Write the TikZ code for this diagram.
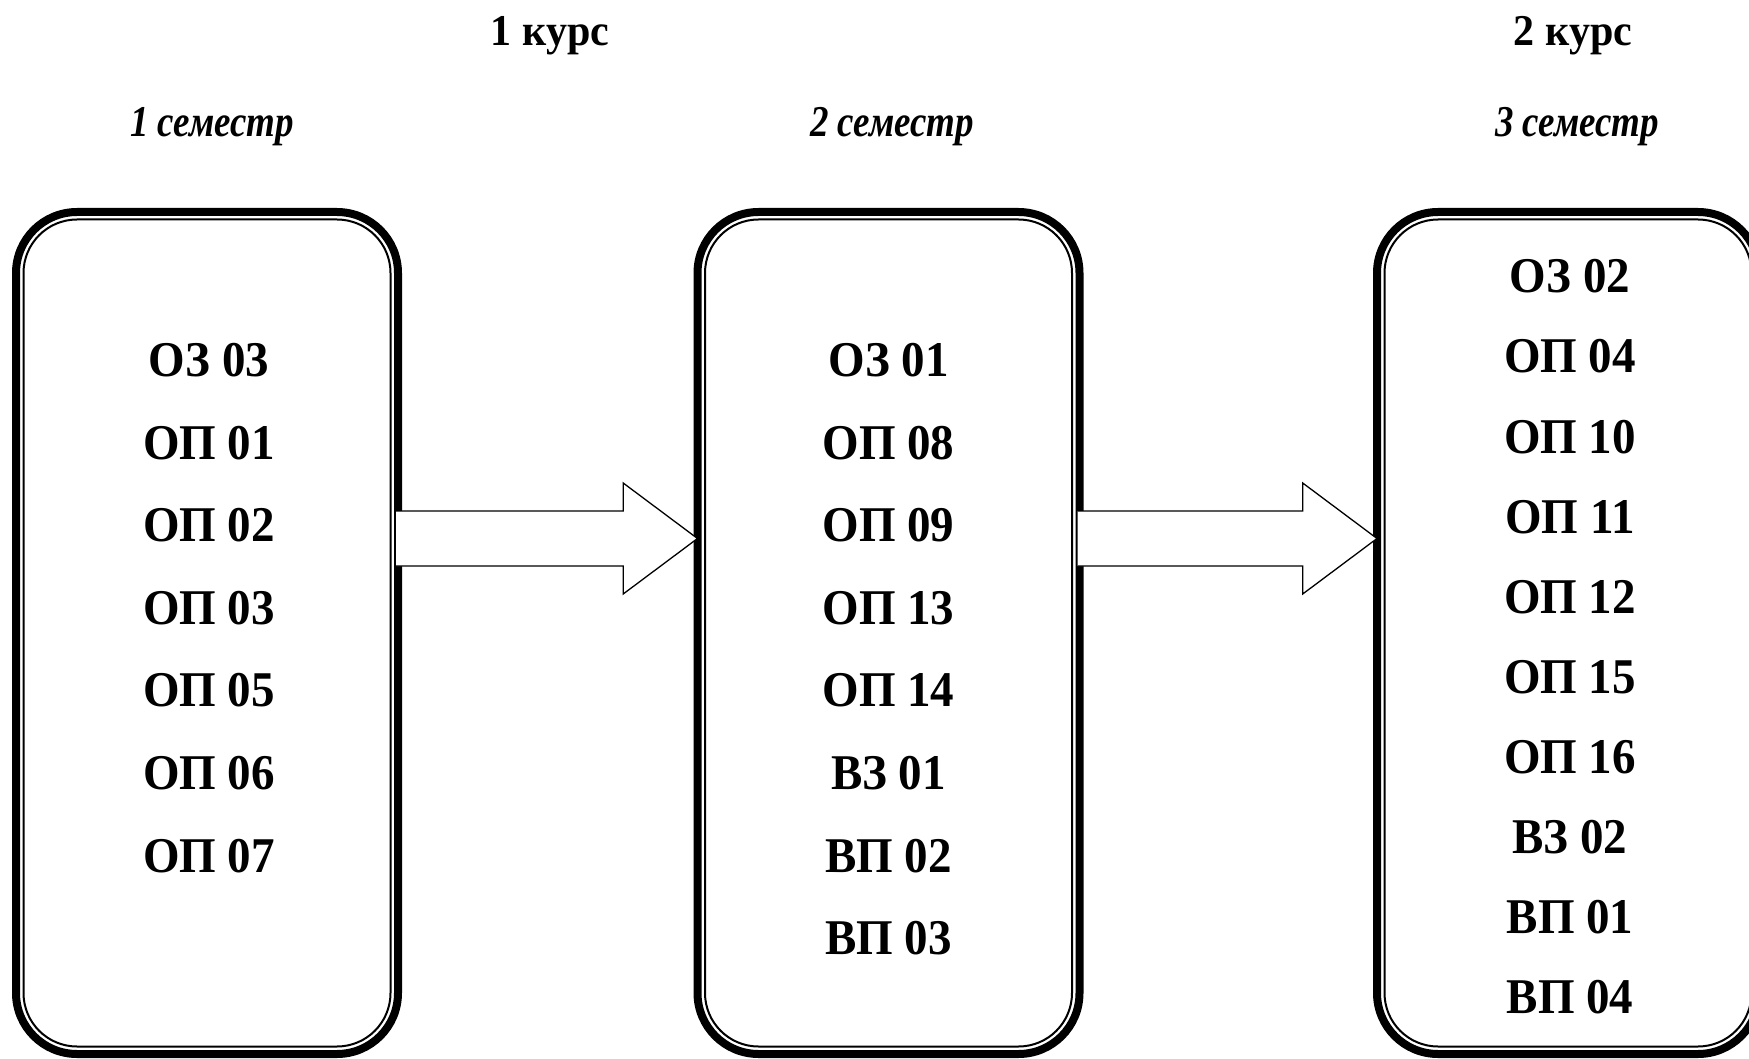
\documentclass[tikz,border=0pt]{standalone}
\usepackage{fontspec}
\setmainfont{Liberation Serif}
\newfontfamily\codefont[FakeStretch=0.94]{Liberation Serif}
\newfontfamily\kursfont[FakeStretch=0.955]{Liberation Serif}
\newfontfamily\semfont[FakeStretch=0.84]{Liberation Serif}
\usetikzlibrary{calc}
\tikzset{
 semebox/.style={draw, line width=8pt, rounded corners=61pt, minimum width=382pt, minimum height=842pt, outer sep=0pt, inner sep=0pt},
 innerline/.style={line width=2pt, rounded corners=53.5pt},
 code/.style={font=\codefont\fontsize{50}{54}\selectfont\bfseries, anchor=base, inner sep=0pt},
 kurs/.style={font=\kursfont\fontsize{44}{48}\selectfont\bfseries, anchor=base, inner sep=0pt},
 sem/.style={font=\semfont\fontsize{44}{48}\selectfont\bfseries\itshape, anchor=base, inner sep=0pt},
 barrow/.style={line width=1.3pt, line join=miter},
}
\begin{document}
\begin{tikzpicture}[x=1pt,y=-1pt]
\useasboundingbox (0,0) rectangle (1749,1059);
\clip (0,0) rectangle (1749,1059);
% boxes
\node[semebox] (b1) at (207,633) {};
\node[semebox] (b2) at (888.5,633) {};
\node[semebox] (b3) at (1568,633) {};
\foreach \b in {b1,b2,b3}
  \draw[innerline] ($(\b.north west)+(7.5,7.5)$) rectangle ($(\b.south east)+(-7.5,-7.5)$);
% arrows
\coordinate (T1) at ($(b1.east)+(-2,-94.5)$);
\coordinate (P1) at ($(b2.west)+(0,-94.5)$);
\coordinate (T2) at ($(b2.east)+(-2,-94.5)$);
\coordinate (P2) at ($(b3.west)+(0,-94.5)$);
\foreach \T/\P in {T1/P1,T2/P2}{
  \fill[white] ($(\T)+(0,-27.5)$) -- ($(\P)+(-74.3,-27.5)$) -- ($(\P)+(-74.3,-55.5)$) -- (\P)
     -- ($(\P)+(-74.3,55.5)$) -- ($(\P)+(-74.3,27.5)$) -- ($(\T)+(0,27.5)$) -- cycle;
  \draw[barrow] ($(\T)+(0,-27.5)$) -- ($(\P)+(-74.3,-27.5)$) -- ($(\P)+(-74.3,-55.5)$) -- (\P)
     -- ($(\P)+(-74.3,55.5)$) -- ($(\P)+(-74.3,27.5)$) -- ($(\T)+(0,27.5)$);
}
% headers
\node[kurs] (k1) at (550,46) {1 курс};
\node[kurs] (k2) at (1573,46) {2 курс};
\node[sem] (s1) at (212,137) {1 семестр};
\node[sem] (s2) at (892,137) {2 семестр};
\node[sem] (s3) at (1577,137) {3 семестр};
% box texts
\foreach \t [count=\i from 0] in {ОЗ 03, ОП 01, ОП 02, ОП 03, ОП 05, ОП 06, ОП 07}
  \node[code] (c1-\i) at (209, 376.5+82.6*\i) {\t};
\foreach \t [count=\i from 0] in {ОЗ 01, ОП 08, ОП 09, ОП 13, ОП 14, ВЗ 01, ВП 02, ВП 03}
  \node[code] (c2-\i) at (888.5, 376.5+82.6*\i) {\t};
\foreach \t [count=\i from 0] in {ОЗ 02, ОП 04, ОП 10, ОП 11, ОП 12, ОП 15, ОП 16, ВЗ 02, ВП 01, ВП 04}
  \node[code] (c3-\i) at (1570, 293+80*\i) {\t};
\end{tikzpicture}
\end{document}
